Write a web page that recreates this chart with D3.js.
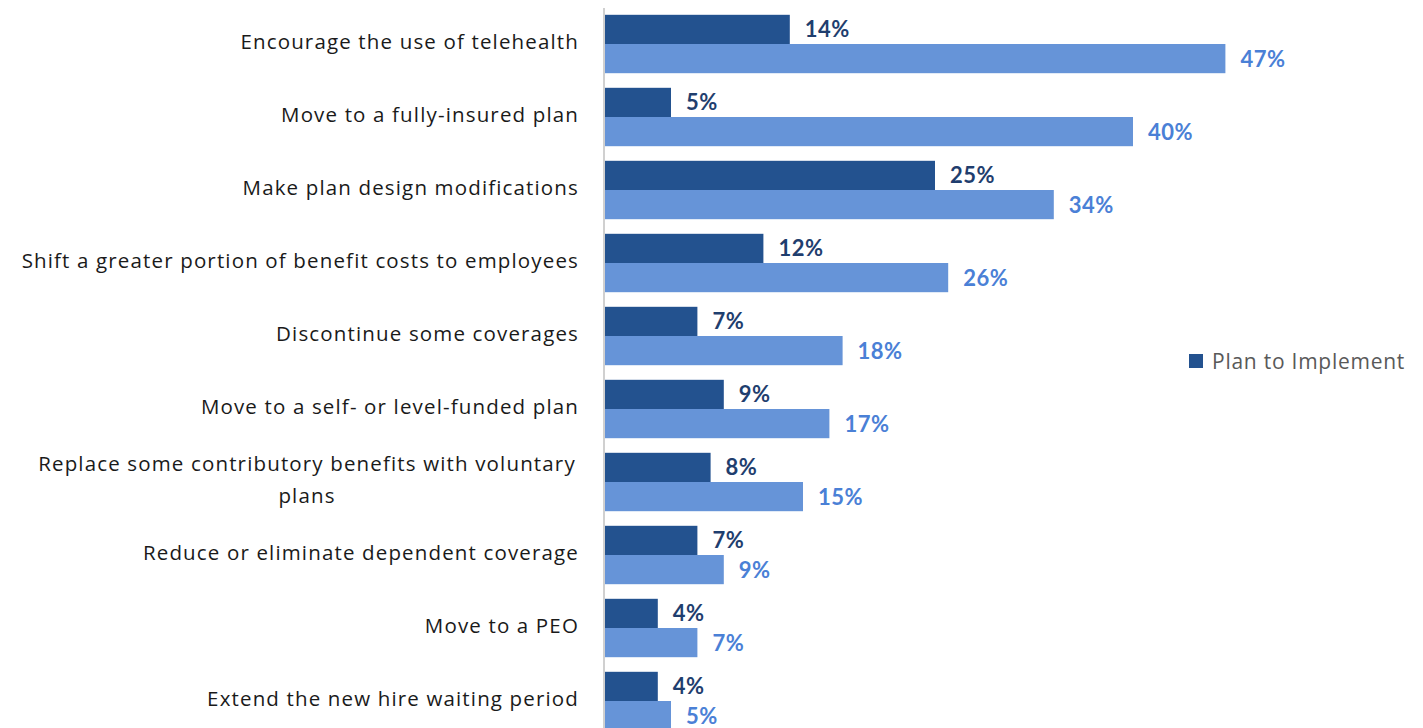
<!DOCTYPE html>
<html lang="en">
<head>
<meta charset="UTF-8">
<title>Cost strategies</title>
<style>
    body { margin: 0; background: #fff; overflow: hidden; }
    svg { display: block; font-family: Lato, "Open Sans", sans-serif; }
    .cat { font-family: "Open Sans", sans-serif; font-size: 20.5px; letter-spacing: 1.15px; fill: #1a1a1a; }
    .val { font-size: 22px; font-weight: 700; letter-spacing: 0.5px; }
    .legend text { font-family: "Open Sans", sans-serif; font-size: 21px; letter-spacing: 0.75px; fill: #595959; }
</style>
<script src="https://d3js.org/d3.v7.min.js"></script>
</head>
<body>
<svg id="chart" width="1423" height="728"></svg>
<script>
    var categories = [
        "Encourage the use of telehealth",
        "Move to a fully-insured plan",
        "Make plan design modifications",
        "Shift a greater portion of benefit costs to employees",
        "Discontinue some coverages",
        "Move to a self- or level-funded plan",
        "Replace some contributory benefits with voluntary plans",
        "Reduce or eliminate dependent coverage",
        "Move to a PEO",
        "Extend the new hire waiting period"
    ];
    var planToImplement = [14, 5, 25, 12, 7, 9, 8, 7, 4, 4];
    var considering = [47, 40, 34, 26, 18, 17, 15, 9, 7, 5];

    var svg = d3.select("#chart");

    var x = d3.scaleLinear().domain([0, 50]).range([605, 605 + 50 * 13.2]);
    var y = d3.scaleBand().domain(categories).range([7.5, 737.5]).paddingInner(0.2).paddingOuter(0.1);
    var half = y.bandwidth() / 2;

    // axis line
    svg.append("line")
        .attr("x1", 604).attr("x2", 604)
        .attr("y1", 8).attr("y2", 728)
        .attr("stroke", "#d0d0d0").attr("stroke-width", 2);

    var rows = svg.selectAll(".row")
        .data(categories)
        .enter().append("g")
        .attr("class", "row")
        .attr("transform", function (d) { return "translate(0," + y(d) + ")"; });

    // dark bars
    rows.append("rect")
        .attr("x", x(0))
        .attr("y", 0)
        .attr("height", half)
        .attr("width", function (d, i) { return x(planToImplement[i]) - x(0); })
        .attr("fill", "#23528f");

    rows.append("rect")
        .attr("x", x(0))
        .attr("y", half)
        .attr("height", half)
        .attr("width", function (d, i) { return x(considering[i]) - x(0); })
        .attr("fill", "#6694d8");

    rows.append("text")
        .attr("class", "val")
        .attr("x", function (d, i) { return x(planToImplement[i]) + 15; })
        .attr("y", half / 2)
        .attr("dy", "0.36em")
        .attr("fill", "#1f3e6e")
        .text(function (d, i) { return planToImplement[i] + "%"; });

    rows.append("text")
        .attr("class", "val")
        .attr("x", function (d, i) { return x(considering[i]) + 15; })
        .attr("y", half * 1.5)
        .attr("dy", "0.36em")
        .attr("fill", "#4a80d6")
        .text(function (d, i) { return considering[i] + "%"; });

    // category labels, the long one wraps
    rows.each(function (d) {
        var g = d3.select(this);
        var lines = d === categories[6]
            ? ["Replace some contributory benefits with voluntary", "plans"]
            : [d];
        var t = g.append("text")
            .attr("class", "cat")
            .attr("text-anchor", lines.length > 1 ? "middle" : "end")
            .attr("y", half - 2 - (lines.length - 1) * 16);
        lines.forEach(function (l, k) {
            t.append("tspan")
                .attr("x", lines.length > 1 ? 307 : 579)
                .attr("dy", k === 0 ? "0.36em" : 32)
                .text(l);
        });
    });

    // legend
    var legend = svg.append("g").attr("class", "legend").attr("transform", "translate(1189,354)");
    legend.append("rect").attr("width", 14).attr("height", 14).attr("fill", "#23528f");
    legend.append("text").attr("x", 23).attr("y", 7).attr("dy", "0.36em").text("Plan to Implement");
</script>
</body>
</html>
